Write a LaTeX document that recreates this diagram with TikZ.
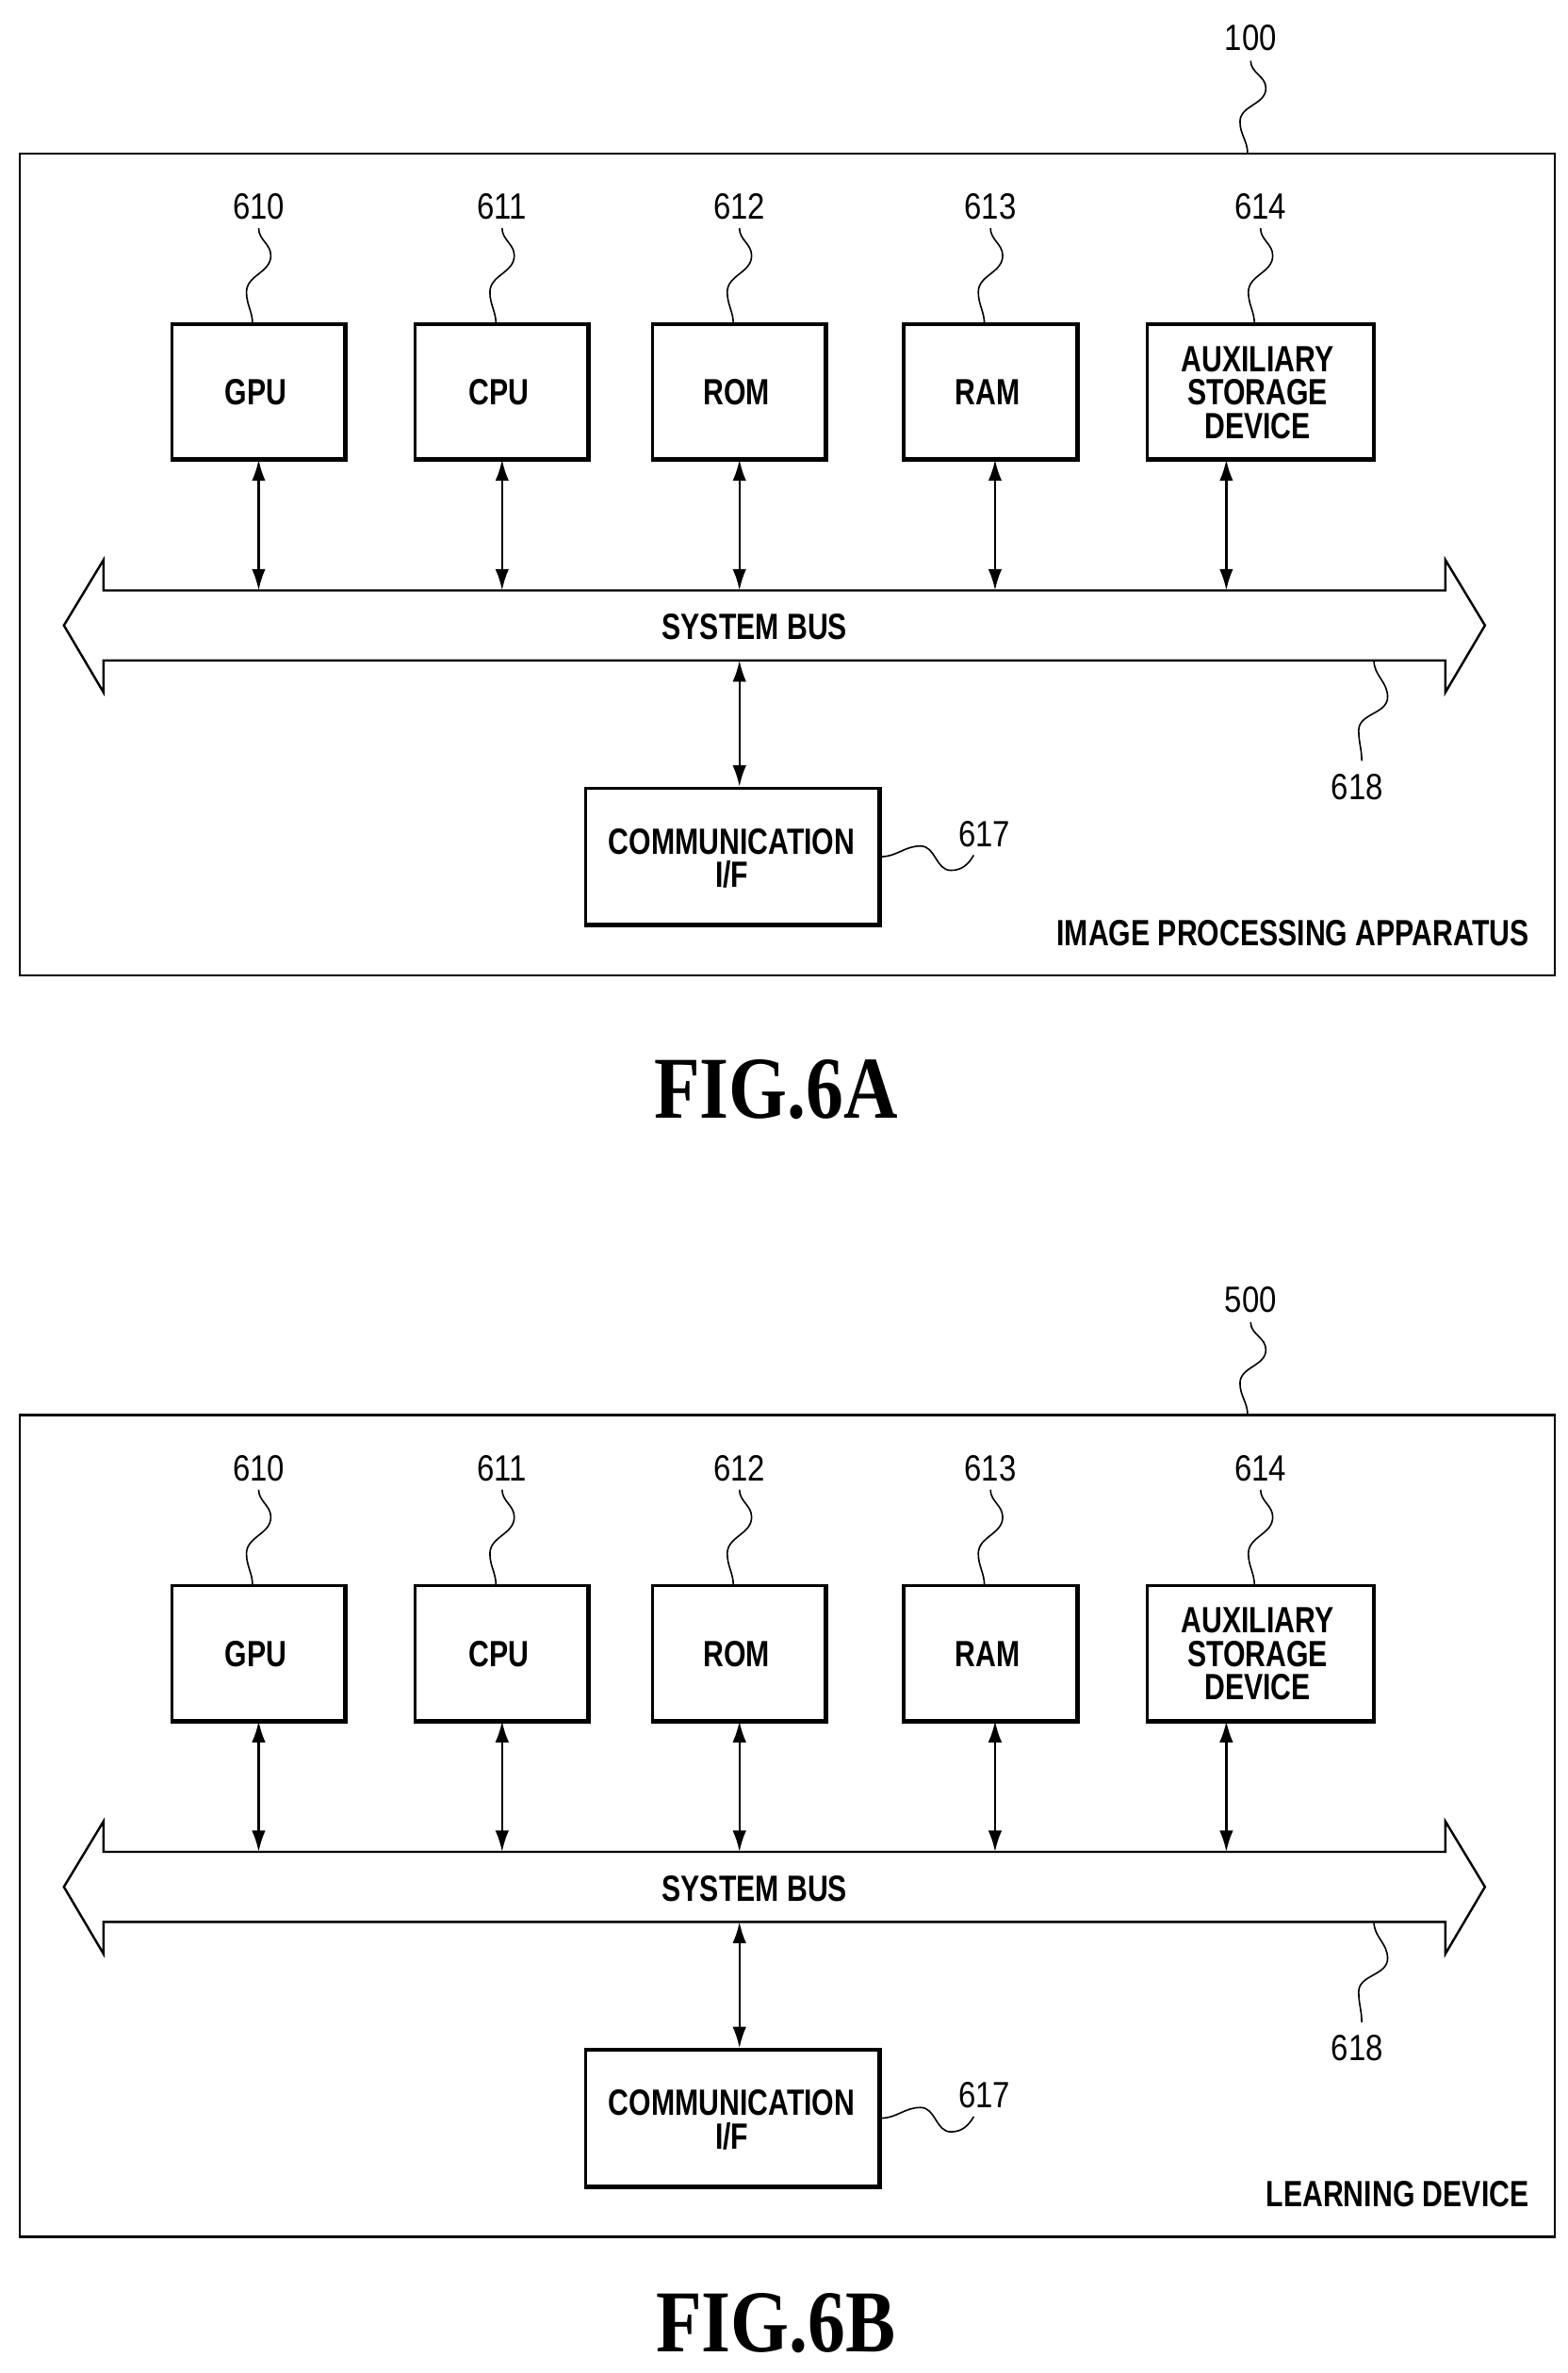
\documentclass[tikz,border=0pt]{standalone}
\usepackage{fontspec}
\setmainfont{Liberation Serif}
\setsansfont{Liberation Sans}
\usetikzlibrary{arrows.meta}
\begin{document}
\begin{tikzpicture}[x=1pt,y=-1pt,
  lbl/.style={font=\sffamily\bfseries\fontsize{24}{22}\selectfont,xscale=0.78,align=center,inner sep=0},
  num/.style={font=\sffamily\fontsize{24}{24}\selectfont,xscale=0.85,inner sep=0},
  blk/.style={draw,line width=2pt,fill=white},
  conn/.style={line width=1.5pt,{Latex[length=14pt,width=9pt]}-{Latex[length=14pt,width=9pt]}},
  sq/.style={line width=1pt},
  fig/.style={font=\rmfamily\bfseries\fontsize{58}{58}\selectfont,xscale=0.85}]
\useasboundingbox (0,0) rectangle (1030,1559.5);
\foreach \o/\n/\t/\f/\s in {0/100/IMAGE PROCESSING APPARATUS/FIG.6A/a, 829/500/LEARNING DEVICE/FIG.6B/b}{
  \begin{scope}[yshift=-\o pt]
    \node[draw,line width=1.5pt,minimum width=1009pt,minimum height=540pt,inner sep=0] (outer\s) at (517.5,371) {};
    \node[num] (n\s) at (822,25) {\n};
    \draw[sq] (822,40) to[out=-90,in=90] (832,58) to[out=-90,in=90] (815,80) to[out=-90,in=90] (820,101);
    \foreach \x/\w/\txt/\num/\ax in {170/114/GPU/610/170, 330/114/CPU/611/330, 486/114/ROM/612/486, 651/114/RAM/613/654, 828.5/149/{AUXILIARY\\STORAGE\\DEVICE}/614/806}{
      \node[blk,minimum width=\w pt,minimum height=89pt,inner sep=0] (b\num\s) at (\x,257.5) {};
      \draw[line width=3pt] ([xshift=-1pt]b\num\s.north east) -- ([xshift=-1pt,yshift=1pt]b\num\s.south east) -- ([yshift=1pt]b\num\s.south west);
      \node[lbl] (t\num\s) at (\x-2,258) {\txt};
      \node[num] (l\num\s) at (\x,136) {\num};
      \draw[sq] (\x,150) to[out=-90,in=90] (\x+8,168) to[out=-90,in=90] (\x-8,192) to[out=-90,in=90] (\x-4,213);
      \coordinate (bt\num\s) at (\ax,388);
      \draw[conn] (\ax,302) -- (bt\num\s);
    }
    % bus
    \coordinate (busL\s) at (42,411);
    \coordinate (busR\s) at (976,411);
    \draw[line width=1.5pt,fill=white] (busL\s) -- (68,368) -- (68,388) -- (950,388) -- (950,368) -- (busR\s) -- (950,455) -- (950,434) -- (68,434) -- (68,455) -- cycle;
    \node[lbl] (bus\s) at (496,412) {SYSTEM BUS};
    \node[blk,minimum width=193pt,minimum height=90pt,inner sep=0] (c\s) at (481.5,563) {};
    \draw[line width=3pt] ([xshift=-1pt]c\s.north east) -- ([xshift=-1pt,yshift=1pt]c\s.south east) -- ([yshift=1pt]c\s.south west);
    \node[lbl] (ct\s) at (481,564) {COMMUNICATION\\I/F};
    \draw[conn] (486,434) -- (c\s.north -| 486,0);
    \node[num] (l617\s) at (647,548) {617};
    \draw[sq] (c\s.east |- 0,563) to[out=0,in=180] (605,556) to[out=0,in=180] (625,572) to[out=0,in=-120] (640,562);
    \node[num] (l618\s) at (892,517) {618};
    \draw[sq] (903,434) to[out=-90,in=90] (912,458) to[out=-90,in=90] (893,480) to[out=-90,in=90] (895,500);
    \node[lbl,anchor=east] (dev\s) at (1005,613) {\t};
  \end{scope}
}
\node[fig] (figa) at (510,716) {FIG.6A};
\node[fig] (figb) at (510,1527) {FIG.6B};
\end{tikzpicture}
\end{document}
